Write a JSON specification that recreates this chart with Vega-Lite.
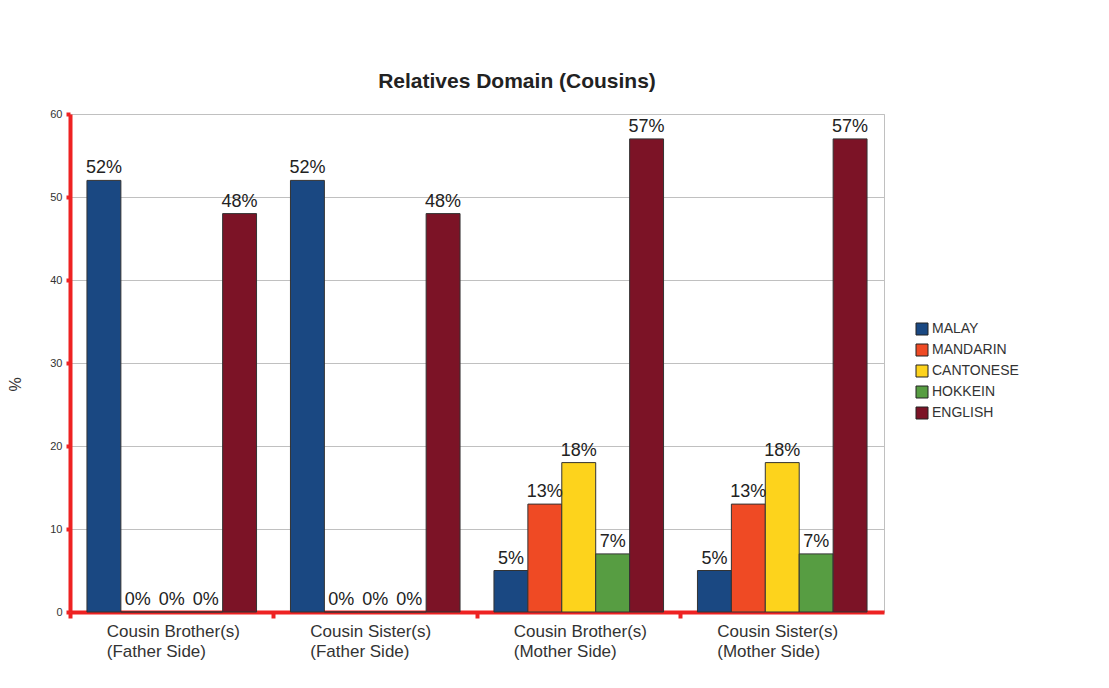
{
  "$schema": "https://vega.github.io/schema/vega-lite/v6.json",
  "width": 814,
  "height": 498,
  "autosize": {"type": "none"},
  "padding": {"left": 70, "top": 114, "right": 225, "bottom": 76},
  "background": "white",
  "title": {"text": "Relatives Domain (Cousins)", "font": "Liberation Sans", "fontSize": 21, "fontWeight": "bold", "color": "#222", "offset": 16, "dx": 40},
  "data": {"values": [
    {"group": "Cousin Brother(s)\n(Father Side)", "lang": "MALAY", "value": 52, "label": "52%"},
    {"group": "Cousin Brother(s)\n(Father Side)", "lang": "MANDARIN", "value": 0, "label": "0%"},
    {"group": "Cousin Brother(s)\n(Father Side)", "lang": "CANTONESE", "value": 0, "label": "0%"},
    {"group": "Cousin Brother(s)\n(Father Side)", "lang": "HOKKEIN", "value": 0, "label": "0%"},
    {"group": "Cousin Brother(s)\n(Father Side)", "lang": "ENGLISH", "value": 48, "label": "48%"},
    {"group": "Cousin Sister(s)\n(Father Side)", "lang": "MALAY", "value": 52, "label": "52%"},
    {"group": "Cousin Sister(s)\n(Father Side)", "lang": "MANDARIN", "value": 0, "label": "0%"},
    {"group": "Cousin Sister(s)\n(Father Side)", "lang": "CANTONESE", "value": 0, "label": "0%"},
    {"group": "Cousin Sister(s)\n(Father Side)", "lang": "HOKKEIN", "value": 0, "label": "0%"},
    {"group": "Cousin Sister(s)\n(Father Side)", "lang": "ENGLISH", "value": 48, "label": "48%"},
    {"group": "Cousin Brother(s)\n(Mother Side)", "lang": "MALAY", "value": 5, "label": "5%"},
    {"group": "Cousin Brother(s)\n(Mother Side)", "lang": "MANDARIN", "value": 13, "label": "13%"},
    {"group": "Cousin Brother(s)\n(Mother Side)", "lang": "CANTONESE", "value": 18, "label": "18%"},
    {"group": "Cousin Brother(s)\n(Mother Side)", "lang": "HOKKEIN", "value": 7, "label": "7%"},
    {"group": "Cousin Brother(s)\n(Mother Side)", "lang": "ENGLISH", "value": 57, "label": "57%"},
    {"group": "Cousin Sister(s)\n(Mother Side)", "lang": "MALAY", "value": 5, "label": "5%"},
    {"group": "Cousin Sister(s)\n(Mother Side)", "lang": "MANDARIN", "value": 13, "label": "13%"},
    {"group": "Cousin Sister(s)\n(Mother Side)", "lang": "CANTONESE", "value": 18, "label": "18%"},
    {"group": "Cousin Sister(s)\n(Mother Side)", "lang": "HOKKEIN", "value": 7, "label": "7%"},
    {"group": "Cousin Sister(s)\n(Mother Side)", "lang": "ENGLISH", "value": 57, "label": "57%"}
  ]},
  "encoding": {
    "x": {
      "field": "group", "type": "nominal", "sort": null,
      "scale": {"paddingInner": 0, "paddingOuter": 0},
      "axis": {
        "title": null, "labelAngle": 0,
        "labelExpr": "split(datum.label, '\\n')",
        "labelFont": "Liberation Sans", "labelFontSize": 17, "labelColor": "#333", "labelLineHeight": 20,
        "labelAlign": "left", "labelOffset": -65, "labelPadding": 5, "labelBaseline": "top",
        "domainColor": "#ee2222", "domainWidth": 4,
        "tickColor": "#ee2222", "tickWidth": 4, "tickSize": 6, "bandPosition": 0,
        "grid": false
      }
    },
    "xOffset": {"field": "lang", "type": "nominal", "scale": {"domain": ["MALAY", "MANDARIN", "CANTONESE", "HOKKEIN", "ENGLISH"], "paddingInner": 0, "paddingOuter": 0.5}},
    "y": {
      "field": "value", "type": "quantitative",
      "scale": {"domain": [0, 60]},
      "axis": {
        "values": [0, 10, 20, 30, 40, 50, 60],
        "title": "%", "titleFont": "Liberation Sans", "titleFontSize": 16, "titleFontWeight": "normal", "titleColor": "#333",
        "titleX": -47, "titleY": 270, "titleAngle": -90,
        "labelFont": "Liberation Sans", "labelFontSize": 11, "labelColor": "#333", "labelPadding": 4,
        "domainColor": "#ee2222", "domainWidth": 4,
        "tickColor": "#ee2222", "tickWidth": 4, "tickSize": 4,
        "gridColor": "#c0c0c0", "gridWidth": 1
      }
    }
  },
  "layer": [
    {
      "mark": {"type": "bar", "stroke": "#333", "strokeWidth": 1},
      "encoding": {
        "color": {
          "field": "lang", "type": "nominal",
          "scale": {"domain": ["MALAY", "MANDARIN", "CANTONESE", "HOKKEIN", "ENGLISH"], "range": ["#1a4882", "#ef4a24", "#fdd31c", "#579d42", "#7c1326"]},
          "legend": {
            "title": null, "orient": "none", "legendX": 845, "legendY": 208,
            "symbolType": "square", "symbolSize": 144, "symbolStrokeColor": "#222", "symbolStrokeWidth": 1,
            "labelFont": "Liberation Sans", "labelFontSize": 14, "labelColor": "#333", "labelOffset": 3, "rowPadding": 5
          }
        }
      }
    },
    {
      "mark": {"type": "text", "baseline": "bottom", "dy": -3, "font": "Liberation Sans", "fontSize": 18, "color": "#222"},
      "encoding": {"text": {"field": "label"}}
    }
  ],
  "config": {"view": {"stroke": "#c0c0c0"}}
}
